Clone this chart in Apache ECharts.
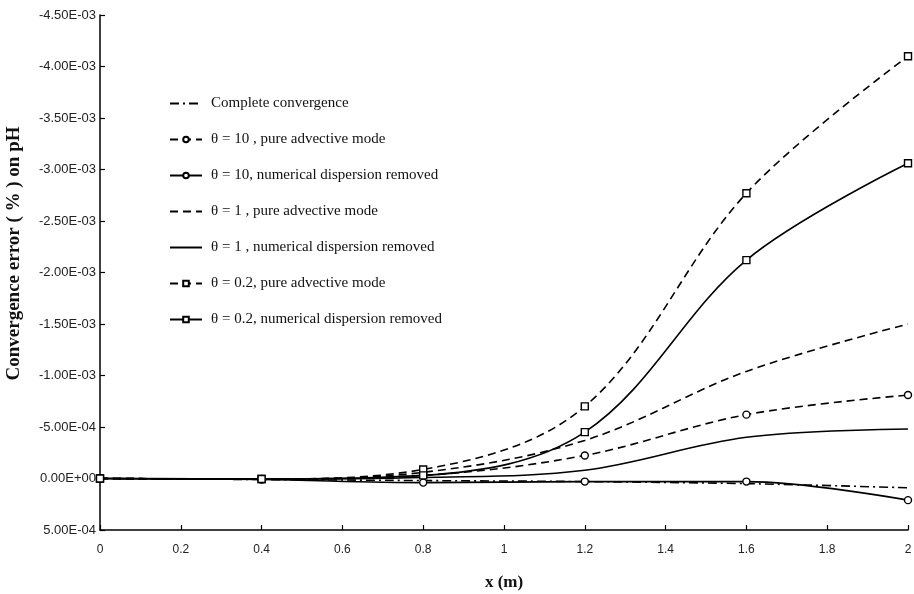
<!DOCTYPE html>
<html><head><meta charset="utf-8">
<script src="https://cdn.jsdelivr.net/npm/echarts@6/dist/echarts.min.js"></script>
<style>html,body{margin:0;padding:0;background:#fff}#c{width:914px;height:594px}</style>
</head><body><div id="c"></div>
<script>
var xValues = [0, 0.4, 0.8, 1.2, 1.6, 2.0];
var seriesNames = [
  'Complete convergence',
  'θ = 10 , pure advective mode',
  'θ = 10, numerical dispersion removed',
  'θ = 1 , pure advective mode',
  'θ = 1 , numerical dispersion removed',
  'θ = 0.2, pure advective mode',
  'θ = 0.2, numerical dispersion removed'
];
var completeConv   = [0, 0.00001, 0.00002, 0.00003, 0.00005, 0.00009];
var theta10Pure    = [0, 0.000005, -0.00003, -0.000224, -0.00062, -0.00081];
var theta10Removed = [0, 0.00001, 0.00004, 0.00003, 0.00003, 0.00021];
var theta1Pure     = [0, 0.000005, -0.00006, -0.00037, -0.00104, -0.0015];
var theta1Removed  = [0, 0.000005, -0.00001, -0.00008, -0.0004, -0.00048];
var theta02Pure    = [0, 0.000005, -0.000088, -0.0007, -0.00277, -0.0041];
var theta02Removed = [0, 0.000005, -0.00003, -0.00045, -0.00212, -0.00306];
var yTickMin = -0.0045, yTickMax = 0.0005, yTickStep = 0.0005;

function pairs(arr){ return arr.map(function(v,i){ return [xValues[i], v]; }); }

function fmtE(v){
  v = Math.round(v*1e7)/1e7;
  if (Math.abs(v) < 1e-12) return '0.00E+00';
  var s = v.toExponential(2);
  var m = s.split('e');
  var exp = parseInt(m[1],10);
  var sign = exp < 0 ? '-' : '+';
  var a = Math.abs(exp);
  return m[0] + 'E' + sign + (a < 10 ? '0' + a : a);
}

var dashDot = [9,4,2,4];
var dashed = [8,5];
var markers = [null, 'circle', 'circle', null, null, 'rect', 'rect'];
function mk(i, data, dash){
  var symbol = markers[i];
  return {
    name: seriesNames[i], type: 'line', data: pairs(data), smooth: 0.35,
    symbol: symbol || 'none', symbolSize: 7, showSymbol: !!symbol,
    itemStyle: {color: '#fff', borderColor: '#000', borderWidth: 1.4},
    lineStyle: {color: '#000', width: 1.6, type: dash || 'solid'},
    emphasis: {disabled: true}, z: 3
  };
}

var legendData = seriesNames.map(function(n, i){
  var item = {name: n};
  if (!markers[i]) item.itemStyle = {opacity: 0};
  return item;
});

var chart = echarts.init(document.getElementById('c'), null, {renderer: 'canvas'});
chart.setOption({
  animation: false,
  backgroundColor: '#fff',
  grid: {left: 100, right: 6, top: 15, bottom: 64, containLabel: false, outerBoundsMode: 'none'},
  legend: {
    orient: 'vertical', left: 164, top: 91, itemWidth: 32, itemHeight: 7, itemGap: 21,
    textStyle: {fontFamily: 'Liberation Serif', fontSize: 15, color: '#111', padding: [0,0,0,4]},
    data: legendData
  },
  xAxis: {
    type: 'value', min: 0, max: 2, interval: 0.2,
    name: 'x (m)', nameLocation: 'middle', nameGap: 44,
    nameTextStyle: {fontFamily: 'Liberation Serif', fontWeight: 'bold', fontSize: 17, color: '#111'},
    axisLine: {onZero: false, lineStyle: {color: '#000', width: 1.5}},
    axisTick: {inside: true, length: 5, lineStyle: {color: '#000', width: 1.2}},
    axisLabel: {fontFamily: 'Liberation Sans', fontSize: 12, color: '#222', margin: 14,
      formatter: function(v){ return String(Math.round(v*10)/10); }},
    splitLine: {show: false}
  },
  yAxis: {
    type: 'value', min: yTickMin, max: yTickMax, interval: yTickStep, inverse: true,
    name: 'Convergence error ( % ) on pH', nameLocation: 'middle', nameGap: 76,
    nameTextStyle: {fontFamily: 'Liberation Serif', fontWeight: 'bold', fontSize: 19, color: '#111',
      padding: [0, 0, 0, 38]},
    axisLine: {show: true, onZero: false, lineStyle: {color: '#000', width: 1.5}},
    axisTick: {show: true, inside: true, length: 5, lineStyle: {color: '#000', width: 1.2}},
    axisLabel: {fontFamily: 'Liberation Sans', fontSize: 13, color: '#222', margin: 4, formatter: fmtE},
    splitLine: {show: false}
  },
  series: [
    mk(0, completeConv, dashDot),
    mk(1, theta10Pure, dashed),
    mk(2, theta10Removed, 'solid'),
    mk(3, theta1Pure, dashed),
    mk(4, theta1Removed, 'solid'),
    mk(5, theta02Pure, dashed),
    mk(6, theta02Removed, 'solid')
  ]
});
</script></body></html>
